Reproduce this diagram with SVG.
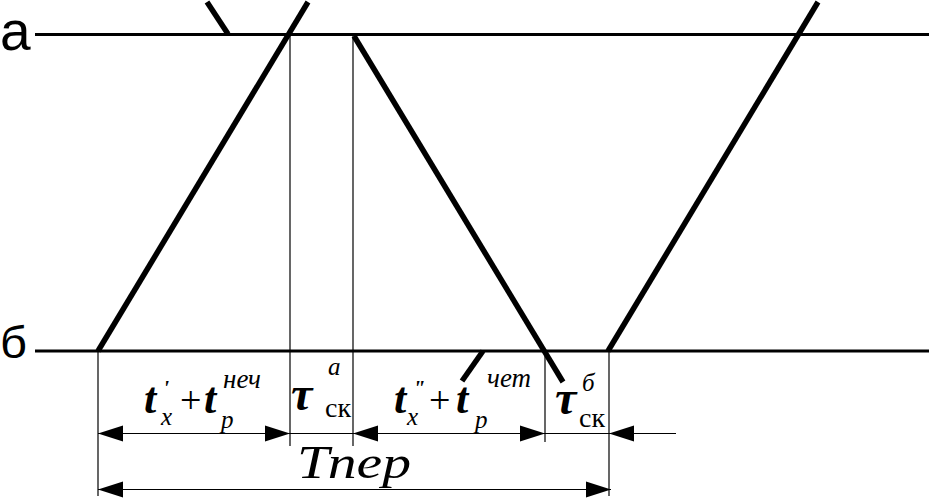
<svg xmlns="http://www.w3.org/2000/svg" xmlns:xlink="http://www.w3.org/1999/xlink" width="929" height="500" viewBox="0 0 929 500">
<style>
.axis{stroke:#000;stroke-width:3;fill:none}
.thick{stroke:#000;stroke-width:5.5;fill:none}
.thin{stroke:#000;stroke-width:1.2;fill:none}
.lbl{font-family:"Liberation Sans",Arial,sans-serif;fill:#000}
.m{font-family:"Liberation Serif","Times New Roman",serif;fill:#000}
.bi{font-weight:bold;font-style:italic}
.i{font-style:italic}
.r{font-style:normal;font-weight:normal}
</style>
<defs>
<path id="aL" d="M0,0 L25,-8 L25,8 Z" fill="#000"/>
<path id="aR" d="M0,0 L-25,-8 L-25,8 Z" fill="#000"/>
</defs>
<rect width="929" height="500" fill="#fff"/>
<g id="axes">
<line class="axis" x1="35" y1="34.5" x2="929" y2="34.5"/>
<line class="axis" x1="35" y1="351" x2="929" y2="351"/>
<text class="lbl" x="0" y="50" font-size="55">а</text>
<text class="lbl" x="0" y="358" font-size="44" textLength="27" lengthAdjust="spacingAndGlyphs">б</text>
</g>
<g id="traces">
<line class="thick" x1="98" y1="351" x2="308" y2="2"/>
<line class="thick" x1="207" y1="2" x2="228" y2="34"/>
<line class="thick" x1="354" y1="36" x2="563" y2="382"/>
<line class="thick" x1="483" y1="351" x2="462" y2="381"/>
<line class="thick" x1="608" y1="351" x2="818" y2="2"/>
</g>
<g id="connectors">
<line class="thin" x1="98" y1="351" x2="98" y2="496"/>
<line class="thin" x1="290" y1="35" x2="290" y2="446"/>
<line class="thin" x1="353" y1="35" x2="353" y2="446"/>
<line class="thin" x1="545" y1="351" x2="545" y2="442"/>
<line class="thin" x1="609" y1="351" x2="609" y2="496"/>
<line class="thin" x1="98" y1="433.5" x2="676" y2="433.5"/>
<line class="thin" x1="98" y1="489.5" x2="611" y2="489.5"/>
<use xlink:href="#aL" x="98" y="433.5"/>
<use xlink:href="#aR" x="290" y="433.5"/>
<use xlink:href="#aL" x="353" y="433.5"/>
<use xlink:href="#aR" x="545" y="433.5"/>
<use xlink:href="#aL" x="609" y="433.5"/>
<use xlink:href="#aL" x="98" y="489.5"/>
<use xlink:href="#aR" x="611" y="489.5"/>
</g>
<g id="label-t1">
<text class="m" font-size="44"><tspan class="bi" x="144" y="413">t</tspan><tspan class="bi" x="163" y="395" font-size="22">'</tspan><tspan class="i" x="161" y="425" font-size="25">x</tspan><tspan class="r" x="180" y="413" font-size="38">+</tspan><tspan class="bi" x="204" y="413">t</tspan><tspan class="i" x="221" y="428" font-size="25">p</tspan><tspan class="i" x="223" y="388" font-size="27">неч</tspan></text>
</g>
<g id="label-tau-a">
<text class="m" font-size="48"><tspan class="bi" x="291" y="410">τ</tspan><tspan class="i" x="328" y="375" font-size="25">a</tspan><tspan class="r" x="325" y="417" font-size="28">ск</tspan></text>
</g>
<g id="label-t2">
<text class="m" font-size="44"><tspan class="bi" x="394" y="413">t</tspan><tspan class="bi" x="413" y="395" font-size="22">"</tspan><tspan class="i" x="407" y="425" font-size="25">x</tspan><tspan class="r" x="429" y="413" font-size="38">+</tspan><tspan class="bi" x="456" y="413">t</tspan><tspan class="i" x="475" y="428" font-size="25">p</tspan><tspan class="i" x="487" y="387" font-size="27">чет</tspan></text>
</g>
<g id="label-tau-b">
<text class="m" font-size="48"><tspan class="bi" x="555" y="414">τ</tspan><tspan class="i" x="582" y="391" font-size="25">б</tspan><tspan class="r" x="579" y="427" font-size="28">ск</tspan></text>
</g>
<g id="label-T">
<text class="m i" x="297" y="478" font-size="46" textLength="114" lengthAdjust="spacingAndGlyphs">Тпер</text>
</g>
</svg>
